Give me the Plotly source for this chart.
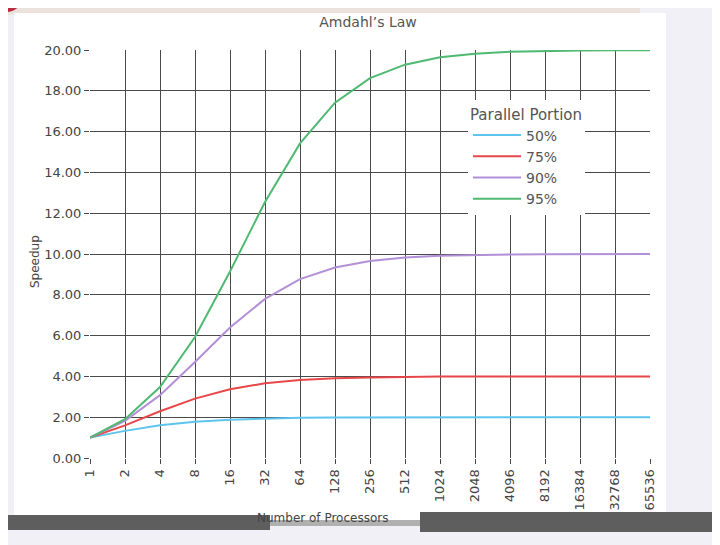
import plotly.graph_objects as go

processors = [1, 2, 4, 8, 16, 32, 64, 128, 256, 512, 1024, 2048, 4096, 8192, 16384, 32768, 65536]
tick_labels = [str(p) for p in processors]
series_names = ["50%", "75%", "90%", "95%"]
speedup_50 = [1.00, 1.33, 1.60, 1.78, 1.88, 1.94, 1.97, 1.98, 1.99, 2.00, 2.00, 2.00, 2.00, 2.00, 2.00, 2.00, 2.00]
speedup_75 = [1.00, 1.60, 2.29, 2.91, 3.37, 3.66, 3.82, 3.91, 3.95, 3.98, 3.99, 3.99, 4.00, 4.00, 4.00, 4.00, 4.00]
speedup_90 = [1.00, 1.82, 3.08, 4.71, 6.40, 7.80, 8.77, 9.34, 9.66, 9.83, 9.91, 9.96, 9.98, 9.99, 9.99, 10.00, 10.00]
speedup_95 = [1.00, 1.90, 3.48, 5.93, 9.14, 12.55, 15.42, 17.42, 18.62, 19.28, 19.64, 19.82, 19.91, 19.95, 19.98, 19.99, 19.99]
y_ticks = [0, 2, 4, 6, 8, 10, 12, 14, 16, 18, 20]

colors = ["#5ec4ee", "#e8474a", "#b28fd6", "#4fb871"]
series = [speedup_50, speedup_75, speedup_90, speedup_95]

fig = go.Figure()
for name, vals, c in zip(series_names, series, colors):
    fig.add_trace(go.Scatter(x=processors, y=vals, mode="lines", name=name,
                             line=dict(color=c, width=2)))

OFF = 8  # page body margin
W, H = 720 - OFF, 545 - OFF
L, R, T, B = 90 - OFF, 650 - OFF, 50 - OFF, 458 - OFF

def px(x):
    return (x - OFF - L) / (R - L)

def py(y):
    return (B - (y - OFF)) / (B - T)

shapes = [
    dict(type="rect", xref="paper", yref="paper", x0=px(0), x1=px(640), y0=py(15), y1=py(0),
         fillcolor="#ebe2dd", line=dict(width=0), layer="below"),
    dict(type="rect", xref="paper", yref="paper", x0=px(14), x1=px(666), y0=py(520), y1=py(13),
         fillcolor="#ffffff", line=dict(width=0), layer="below"),
    dict(type="rect", xref="paper", yref="paper", x0=px(0), x1=px(270), y0=py(530), y1=py(515),
         fillcolor="#5e5e5e", line=dict(width=0), layer="below"),
    dict(type="rect", xref="paper", yref="paper", x0=px(420), x1=px(720), y0=py(532), y1=py(512),
         fillcolor="#5e5e5e", line=dict(width=0), layer="below"),
    dict(type="rect", xref="paper", yref="paper", x0=px(270), x1=px(420), y0=py(526), y1=py(520),
         fillcolor="#b0b0b0", line=dict(width=0), layer="below"),
    dict(type="circle", xref="paper", yref="paper", x0=px(-12), x1=px(24), y0=py(12), y1=py(-24),
         fillcolor="#b82a3c", line=dict(width=0), layer="below"),
]

annotations = [
    dict(text="Number of Processors", xref="paper", yref="paper", x=px(322), y=py(518),
         xanchor="center", yanchor="middle", showarrow=False,
         font=dict(size=12, color="#444444")),
    dict(text="Speedup", xref="paper", yref="paper", x=px(35), y=py(262),
         xanchor="center", yanchor="middle", showarrow=False, textangle=-90,
         font=dict(size=12, color="#444444")),
]

fig.update_layout(
    width=W, height=H,
    margin=dict(l=L, r=W - R, t=T, b=H - B, autoexpand=False),
    paper_bgcolor="#f2f0f7",
    plot_bgcolor="rgba(0,0,0,0)",
    font=dict(family="DejaVu Sans", color="#444444", size=13),
    title=dict(text="Amdahl’s Law", x=(368 - OFF) / W, xanchor="center", y=1 - (22 - OFF) / H,
               yanchor="middle", font=dict(size=14, color="#555555")),
    shapes=shapes,
    annotations=annotations,
    showlegend=True,
    legend=dict(x=px(468), y=py(100), xanchor="left", yanchor="top",
                bgcolor="#ffffff", borderwidth=0,
                title=dict(text="Parallel Portion", font=dict(size=15, color="#555555")),
                font=dict(size=14, color="#555555"), itemwidth=48, tracegroupgap=0),
    xaxis=dict(type="log", tickmode="array", tickvals=processors, ticktext=tick_labels,
               tickangle=-90, range=[0, 4.81648], showgrid=True, gridcolor="#4a4a4a", gridwidth=1.2,
               ticks="outside", ticklen=5, tickcolor="#4a4a4a", showline=False, zeroline=False,
               tickfont=dict(size=13, color="#444444")),
    yaxis=dict(range=[0, 20], tickmode="array", tickvals=y_ticks, tickformat=".2f",
               showgrid=True, gridcolor="#4a4a4a", gridwidth=1.2, ticks="outside", ticklen=5,
               tickcolor="#4a4a4a", zeroline=False, showline=False,
               tickfont=dict(size=13, color="#444444")),
)

fig.write_html("out.html")
